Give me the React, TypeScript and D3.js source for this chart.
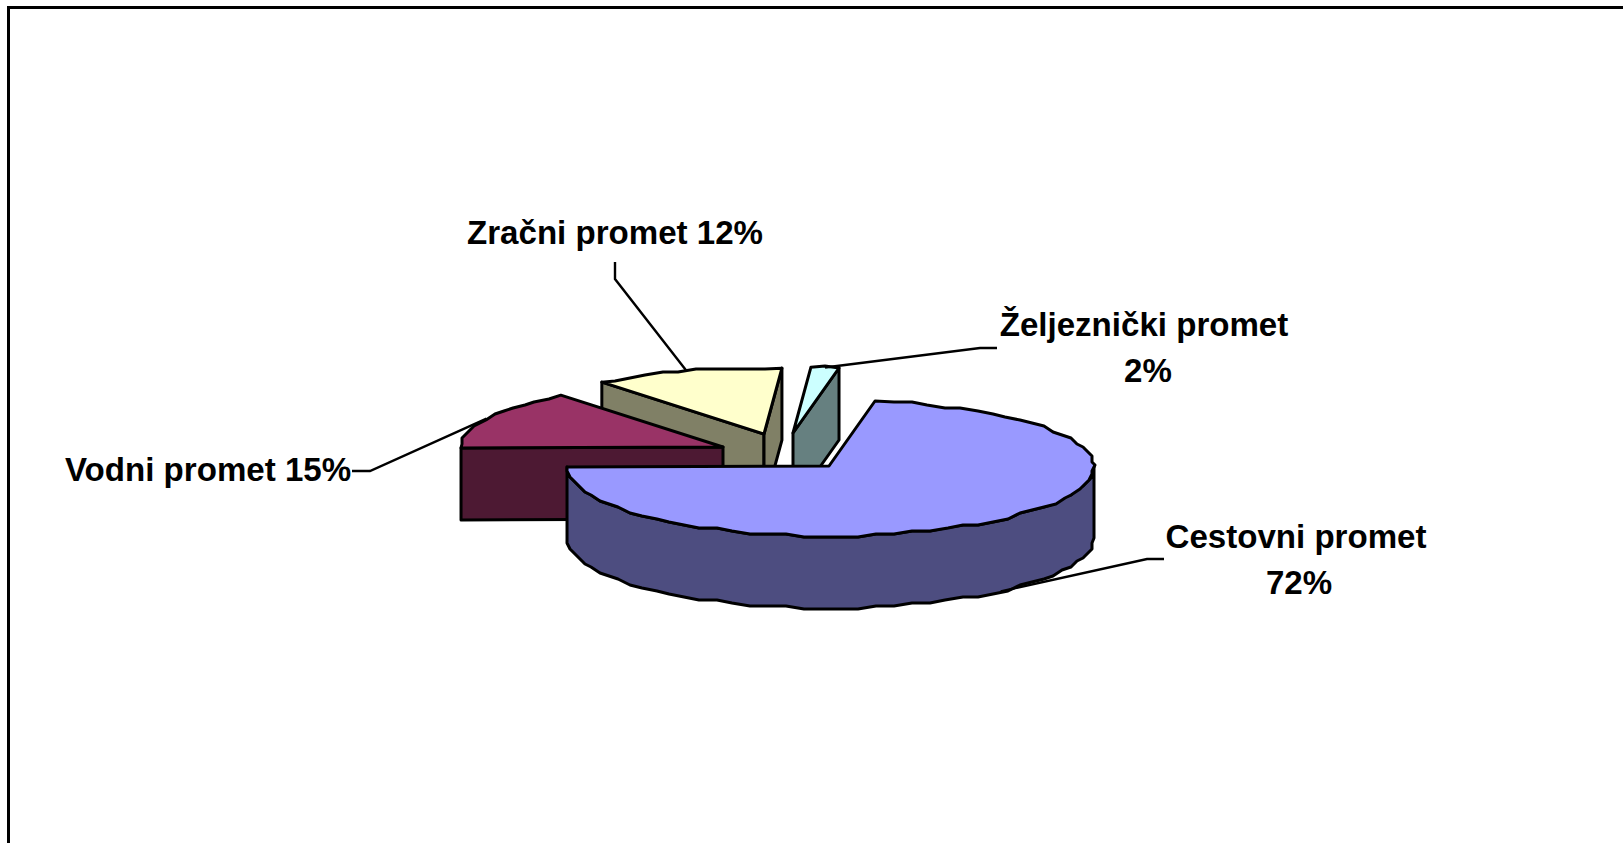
import { useMemo } from 'react';
import * as d3 from 'd3';

const WIDTH = 1623;
const HEIGHT = 843;

// slices, in drawing order round the pie (clockwise)
const categories = ['Cestovni promet', 'Vodni promet', 'Zračni promet', 'Željeznički promet'];
const values = [72, 14.6, 11.7, 1.7];
const topColors = ['#9999ff', '#993366', '#ffffcc', '#ccffff'];
const sideColors = ['#4d4d80', '#4d1933', '#808066', '#668080'];

// printed labels, one array entry per text line
const labelLines = [['Cestovni promet', '72%'], ['Vodni promet 15%'], ['Zračni promet 12%'], ['Željeznički promet', '2%']];

// where each exploded slice has its apex
const apexX = [829, 723, 764, 793];
const apexY = [466, 447, 434, 433];

const labelX = [1296, 65, 615, 1144];
const labelY = [548, 481, 244, 336];
const labelAnchor = ['middle', 'start', 'middle', 'middle'];
const lineGap = 45.5;
const label2Dx = [3, 0, 0, 4];

// leader lines: text end, then elbow, then a point on the rim
const leaderStartX = [1164, 352, 615, 997];
const leaderStartY = [559, 471, 262, 348];
const leaderElbowX = [1147, 370, 615, 980];
const leaderElbowY = [559, 471, 279, 348];

const RX_RIGHT = 265;
const RX_LEFT = 262;
const RY_BACK = 66; // perspective: far rim is a bit flatter than the near one
const RY_FRONT = 70;
const DEPTH = 72;
const STEP = (4 * Math.PI) / 180;
const SNAP = 3; // the source curves are stair-stepped

const snap = (v: number) => Math.round(v / SNAP) * SNAP;

const project = (i: number, a: number, dy = 0): [number, number] => {
  const s = Math.sin(a);
  const c = Math.cos(a);
  return [apexX[i] + (s > 0 ? RX_RIGHT : RX_LEFT) * s, apexY[i] - (c > 0 ? RY_BACK : RY_FRONT) * c + dy];
};

const arcPoints = (i: number, a0: number, a1: number, dy = 0): [number, number][] => {
  const n = Math.max(1, Math.ceil((a1 - a0) / STEP));
  return d3.range(n + 1).map((k) => {
    const p = project(i, a0 + ((a1 - a0) * k) / n, dy);
    // keep the arc ends exact so the cut faces meet them
    return k === 0 || k === n ? p : ([snap(p[0]), snap(p[1])] as [number, number]);
  });
};

const App = () => {
  const line = d3.line();
  const slices = useMemo(
    () =>
      d3
        .pie<number>()
        .sort(null)
        .startAngle((10 * Math.PI) / 180)
        .endAngle((370 * Math.PI) / 180)(values),
    [],
  );

  const shapes = slices.map((s, i) => {
    const a0 = s.startAngle;
    const a1 = s.endAngle;
    const apex: [number, number] = [apexX[i], apexY[i]];
    const top = [apex, ...arcPoints(i, a0, a1)];
    const faces: [number, number][][] = [];

    const pStart = project(i, a0);
    const pEnd = project(i, a1);
    const down = (p: [number, number]): [number, number] => [p[0], p[1] + DEPTH];
    // cut faces turned towards the viewer
    if (i === 1 || i === 2) faces.push([apex, pStart, down(pStart), down(apex)]);
    if (i === 2 || i === 3) faces.push([apex, pEnd, down(pEnd), down(apex)]);

    // outer wall, only the part facing the viewer
    const w0 = Math.max(a0, Math.PI / 2);
    const w1 = Math.min(a1, (3 * Math.PI) / 2);
    if (w1 - w0 > 0.1) {
      faces.push([...arcPoints(i, w0, w1), ...arcPoints(i, w0, w1, DEPTH).reverse()]);
    }
    return { top, faces };
  });

  // Zračni and Željeznički sit at the back, then Vodni, Cestovni in front
  const order = [3, 2, 1, 0];

  return (
    <svg
      width={WIDTH}
      height={HEIGHT}
      style={{ position: 'absolute', left: 0, top: 0, display: 'block', background: '#fff' }}
    >
      <rect x={8.5} y={7.5} width={WIDTH + 20} height={HEIGHT + 20} fill="#fff" stroke="#000" strokeWidth={3} />

      {order.map((i) => (
        <g key={categories[i]} stroke="#000" strokeWidth={3} strokeLinejoin="round">
          {shapes[i].faces.map((f, k) => (
            <path key={k} d={line(f) + 'Z'} fill={sideColors[i]} />
          ))}
          <path d={line(shapes[i].top) + 'Z'} fill={topColors[i]} />
        </g>
      ))}

      {slices.map((s, i) => {
        const mid = (s.startAngle + s.endAngle) / 2;
        // the big slice's leader lands on the lower rim of its wall
        const rim = project(i, mid, i === 0 ? DEPTH : 0);
        const pts: [number, number][] = [
          [leaderStartX[i], leaderStartY[i]],
          [leaderElbowX[i], leaderElbowY[i]],
          rim,
        ];
        return <path key={i} d={line(pts) ?? ''} fill="none" stroke="#000" strokeWidth={2.4} />;
      })}

      {labelLines.map((lines, i) => (
        <text
          key={i}
          fontFamily="'Liberation Sans', Arial, sans-serif"
          fontWeight={700}
          fontSize={33.1}
          textAnchor={labelAnchor[i]}
          fill="#000"
        >
          {lines.map((t, k) => (
            <tspan key={k} x={labelX[i] + (k ? label2Dx[i] : 0)} y={labelY[i] + k * lineGap}>
              {t}
            </tspan>
          ))}
        </text>
      ))}
    </svg>
  );
};

export default App;
